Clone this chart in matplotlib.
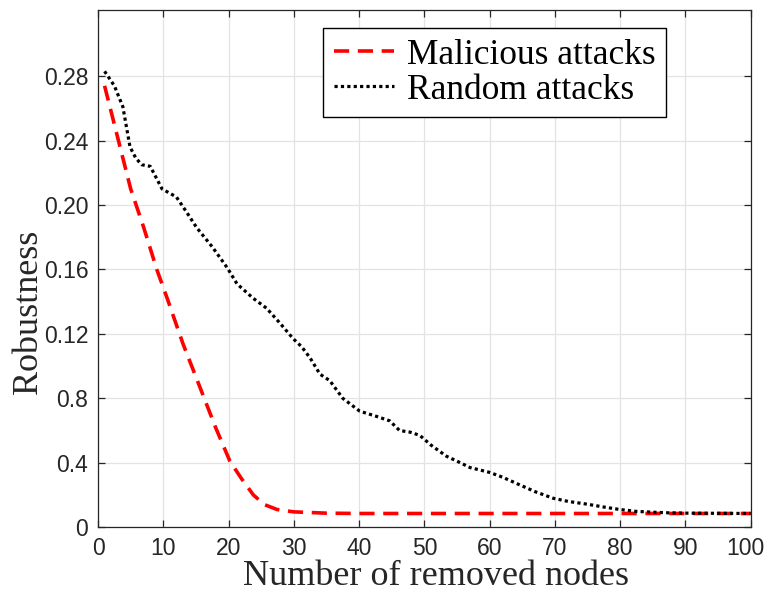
import matplotlib.pyplot as plt
import matplotlib.transforms as mtransforms

# values
malicious_x = [1, 3, 5, 7, 9, 10.6, 13, 15.6, 18, 20.2, 22, 23.8, 25.5, 27.4, 30, 35, 40, 50, 60, 70, 80, 90, 100]
malicious_y = [0.274, 0.242, 0.210, 0.186, 0.160, 0.142, 0.114, 0.087, 0.062, 0.041, 0.030, 0.020, 0.014, 0.011, 0.0095,
               0.0087, 0.0085, 0.0085, 0.0085, 0.0085, 0.0085, 0.0085, 0.0085]

random_x = [1, 2.5, 3.8, 4.9, 5.8, 6.7, 8, 9.8, 12, 13.5, 15.1, 17.5, 19.8, 21.3, 23.8, 25.8, 27.8, 29.9, 31.2, 32.5,
            34, 35.5, 37.5, 40.1, 42.5, 44.7, 46.2, 47.8, 49.3, 51, 53.4, 55, 57, 60, 62, 64.2, 67, 69.7, 72,
            74.9, 77.5, 79.9, 82.5, 85, 87.5, 90.2, 95, 100]
random_y = [0.283, 0.274, 0.261, 0.236, 0.229, 0.225, 0.224, 0.210, 0.205, 0.196, 0.186, 0.174, 0.161, 0.151, 0.142,
            0.136, 0.127, 0.117, 0.112, 0.105, 0.095, 0.091, 0.080, 0.072, 0.069, 0.066, 0.060, 0.059, 0.057, 0.051,
            0.044, 0.041, 0.037, 0.034, 0.031, 0.027, 0.022, 0.018, 0.016, 0.0143, 0.0125, 0.011, 0.0098, 0.0093,
            0.0089, 0.0087, 0.0086, 0.0085]

x_ticks = list(range(0, 101, 10))
y_ticks = [0, 0.04, 0.08, 0.12, 0.16, 0.20, 0.24, 0.28]
y_tick_labels = ["0", "0.4", "0.8", "0.12", "0.16", "0.20", "0.24", "0.28"]

AX_COLOR = "#262626"

fig = plt.figure(figsize=(7.66, 5.93), dpi=100)
ax = fig.add_axes([0.128, 0.111, 0.852, 0.872])

ax.plot(malicious_x, malicious_y, color="red", linewidth=2.6,
        linestyle=(0, (4.2, 2.4)), label="Malicious attacks")
ax.plot(random_x, random_y, color="black", linewidth=2.3,
        linestyle=(0, (1, 1)), label="Random attacks")

ax.set_xlim(0, 100)
ax.set_ylim(0, 0.321)
ax.set_xticks(x_ticks)
ax.set_yticks(y_ticks)
ax.set_yticklabels(y_tick_labels)

ax.grid(True, color="#e3e3e3", linewidth=0.9)
ax.set_axisbelow(True)

ax.tick_params(direction="in", top=True, right=True, length=5, width=0.9,
               colors=AX_COLOR, labelsize=16.5)
ax.tick_params(axis="x", pad=7)
ax.tick_params(axis="y", pad=7)
for lab in ax.get_xticklabels() + ax.get_yticklabels():
    lab.set_family("Liberation Sans")

# the last x label sits right at the figure edge, nudge it in a little
last = ax.get_xticklabels()[-1]
last.set_transform(last.get_transform() + mtransforms.ScaledTranslation(-5 / 100, 0, fig.dpi_scale_trans))

for sp in ax.spines.values():
    sp.set_color(AX_COLOR)
    sp.set_linewidth(0.9)

ax.set_xlabel("Number of removed nodes", family="Liberation Serif", fontsize=26, color=AX_COLOR, labelpad=0)
ax.set_ylabel("Robustness", family="Liberation Serif", fontsize=26, color=AX_COLOR)
ax.xaxis.label.set_x(0.518)
ax.yaxis.set_label_coords(-0.082, 0.416)

leg = ax.legend(loc="upper right", bbox_to_anchor=(0.870, 0.965), borderaxespad=0,
                prop={"family": "Liberation Serif", "size": 25.5}, handlelength=1.7,
                handletextpad=0.35, labelspacing=0.05, borderpad=0.3, fancybox=False,
                framealpha=1, edgecolor="black")
leg.get_frame().set_linewidth(1.0)

plt.savefig("out.png", dpi=100)
